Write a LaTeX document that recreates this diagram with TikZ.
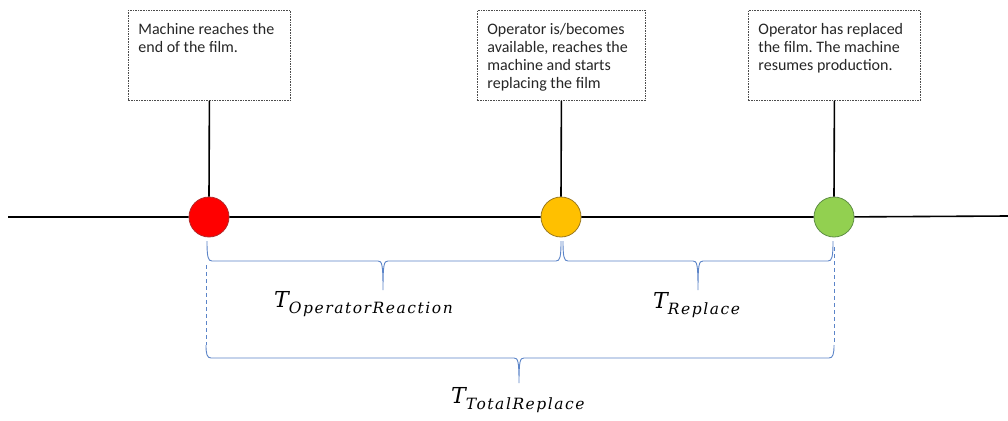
\documentclass[tikz,border=0pt]{standalone}
\usepackage{fontspec}
\setmainfont{Carlito}
\newfontfamily\labelfont[LetterSpace=10]{DejaVu Serif}
\usetikzlibrary{calc}
\frenchspacing

\definecolor{bracecol}{HTML}{5B84C8}
\definecolor{redfill}{HTML}{FF0000}
\definecolor{redline}{HTML}{B52A2A}
\definecolor{orangefill}{HTML}{FFC000}
\definecolor{orangeline}{HTML}{9C7A1E}
\definecolor{greenfill}{HTML}{92D050}
\definecolor{greenline}{HTML}{5F8F45}

% horizontal brace: #1 left x, #2 right x, #3 tip x, #4 end top y, #5 bar y, #6 tip y
\newcommand\timebrace[6]{%
  \draw[bracestyle]
    (#1,#4) .. controls (#1,#5-4) and (#1+1,#5) .. (#1+5,#5)
    -- (#3-5,#5) .. controls (#3-1,#5) and (#3,#5+3) .. (#3,#6)
    .. controls (#3,#5+3) and (#3+1,#5) .. (#3+5,#5)
    -- (#2-5,#5) .. controls (#2-1,#5) and (#2,#5-4) .. (#2,#4);}

% subscripted time label
\newcommand\tlabel[1]{{\labelfont\itshape\fontsize{22}{24}\selectfont T\raisebox{-6pt}{\fontsize{15.5}{18}\selectfont #1}}}

\begin{document}
\begin{tikzpicture}[x=1pt,y=-1pt,
  event/.style={circle, minimum size=40pt, inner sep=0pt, line width=0.8pt},
  infobox/.style={draw=black!70, dash pattern=on 1.6pt off 1pt, line width=0.8pt,
    inner xsep=10pt, inner ysep=13pt, anchor=north west, fill=white,
    font=\fontsize{16}{18}\selectfont, text=black!85},
  timeline/.style={line width=1.6pt, black},
  stem/.style={line width=1.6pt, black},
  bracestyle/.style={draw=bracecol, line width=0.9pt},
  guide/.style={draw=bracecol, line width=0.8pt, dash pattern=on 4pt off 3pt},
  tlab/.style={anchor=base west, inner sep=0pt}]

\useasboundingbox (0,0) rectangle (1008,420);
\fill[white] (0,0) rectangle (1008,420);

% event circles on the time line
\node[event, fill=redfill, draw=redline] (c1) at (209,217) {};
\node[event, fill=orangefill, draw=orangeline] (c2) at (561,217) {};
\node[event, fill=greenfill, draw=greenline] (c3) at (834,217) {};

\coordinate (tl) at (8,217);
\coordinate (tr) at (1008,216);

% time line
\draw[timeline] (tl) -- (c1) -- (c2) -- (c3) -- (tr);

% event descriptions
\node[infobox] (b1) at (128,10)
  {\parbox[t][64pt][t]{142pt}{\raggedright Machine reaches the\\ end of the film.}};
\node[infobox] (b2) at (477,10)
  {\parbox[t][64pt][t]{148pt}{\raggedright Operator is/becomes\\ available, reaches the\\ machine and starts\\ replacing the film}};
\node[infobox] (b3) at (748,10)
  {\parbox[t][64pt][t]{152pt}{\raggedright Operator has replaced\\ the film. The machine\\ resumes production.}};

\draw[stem] (b1.south) -- (c1.north);
\draw[stem] (b2.south) -- (c2.north);
\draw[stem] (b3.south) -- (c3.north);

% durations
\timebrace{207}{561}{383}{241}{261}{290}
\timebrace{563}{833}{698}{241}{261}{290}
\draw[guide] (206,265) -- (206,345);
\draw[guide] (834,247) -- (834,345);
\timebrace{206}{834}{519}{345}{358}{383}

\node[tlab] (l1) at (274,307) {\tlabel{OperatorReaction}};
\node[tlab] (l2) at (653,308) {\tlabel{Replace}};
\node[tlab] (l3) at (451,403) {\tlabel{TotalReplace}};
\end{tikzpicture}
\end{document}
